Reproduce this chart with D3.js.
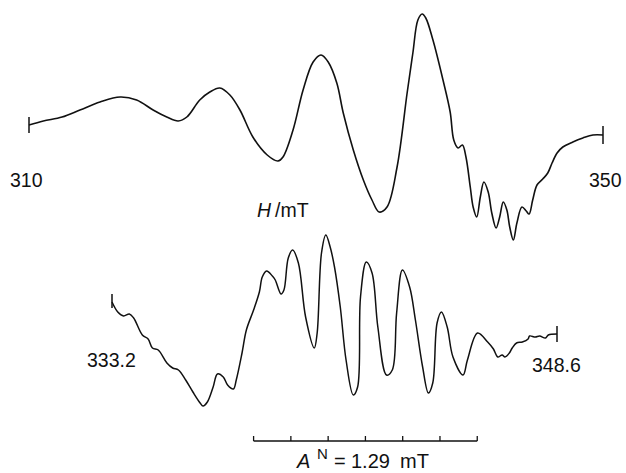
<!DOCTYPE html>
<html>
<head>
<meta charset="utf-8">
<script src="https://cdn.jsdelivr.net/npm/d3@7/dist/d3.min.js"></script>
<style>
  html, body { margin: 0; padding: 0; background: #fff; }
  svg { display: block; }
  text { font-family: "Liberation Sans", Arial, Helvetica, sans-serif; fill: #111; }
</style>
</head>
<body>
<svg id="chart" width="626" height="473"></svg>
<script>
// ---- Data ----
// Upper spectrum: field H (mT) and signal (arbitrary units)
const topField = [310.0,311.0,312.3,313.55,314.95,316.35,317.5,318.65,319.6,320.4,321.0,321.9,322.6,323.3,324.0,324.7,325.6,326.6,327.35,327.7,328.4,329.1,329.8,330.35,330.85,331.45,331.9,332.6,333.3,333.9,334.4,334.95,335.65,336.35,336.75,337.1,337.4,337.65,338.15,338.85,339.35,339.6,339.9,340.2,340.45,340.75,340.95,341.2,341.45,341.7,342.0,342.25,342.55,342.8,343.05,343.3,343.5,343.75,344.0,344.35,344.65,344.85,345.1,345.4,345.8,346.15,346.45,346.8,347.2,347.9,348.6,349.3,350.0];
const topSignal = [0,4,8,15,23,28,25,15,8,4,8,25,33,37,30,15,-12,-30,-36,-32,-5,35,63,70,63,42,12,-25,-55,-75,-87,-82,-42,32,72,105,111,107,85,45,13,-15,-23,-20,-32,-62,-82,-92,-72,-57,-67,-88,-103,-92,-77,-85,-102,-115,-98,-82,-86,-89,-75,-60,-54,-48,-38,-28,-22,-17,-13,-10,-10];

// Lower spectrum (expanded): field H (mT) and signal (arbitrary units)
const botField = [333.2,333.4,333.6,333.8,333.95,334.25,334.45,334.6,334.8,335.1,335.3,335.5,335.75,336.0,336.25,336.35,336.5,336.7,336.85,337.05,337.2,337.4,337.5,337.7,337.85,338.1,338.3,338.4,338.55,338.75,338.85,339.05,339.15,339.3,339.45,339.65,339.9,340.2,340.3,340.45,340.6,340.75,340.9,341.1,341.3,341.55,341.7,341.8,342.0,342.2,342.4,342.7,342.9,343.05,343.25,343.5,343.7,343.95,344.15,344.3,344.45,344.6,344.8,345.0,345.35,345.5,345.85,346.2,346.4,346.55,346.7,346.8,346.95,347.05,347.2,347.4,347.6,347.65,347.85,348.0,348.2,348.3,348.6];
const botSignal = [38,28,24,26,22,5,1,-8,-10,-23,-28,-30,-40,-52,-63,-66,-62,-47,-34,-37,-45,-49,-40,-13,10,30,48,63,69,64,60,46,50,82,90,77,23,-8,7,87,105,93,73,33,-20,-55,-47,43,78,67,13,-35,-30,27,70,53,20,-27,-53,-43,17,28,13,-17,-35,-20,7,-2,-9,-17,-15,-17,-13,-8,-3,-2,1,4,3,4,2,5,6];

// Labels
const topLabels = ["310", "350"];
const botLabels = ["333.2", "348.6"];
const axisLabel = ["H", "/mT"];
// Hyperfine splitting scale bar: A^N = 1.29 mT, 6 intervals
const hfStart = 338.1;
const hfSplitting = 1.29;
const hfCount = 6;
const hfLabel = ["A", "N", "=", "1.29", "mT"];

// ---- Drawing ----
const svg = d3.select("#chart");

const xTop = d3.scaleLinear().domain([310, 350]).range([29, 603]);
const yTop = d3.scaleLinear().domain([-120, 120]).range([245, 5]);
const xBot = d3.scaleLinear().domain([333.2, 348.6]).range([112, 557]);
const yBot = d3.scaleLinear().domain([-120, 120]).range([460, 220]);

const topData = topField.map((f, i) => [f, topSignal[i]]);
const botData = botField.map((f, i) => [f, botSignal[i]]);

const lineTop = d3.line().x(d => xTop(d[0])).y(d => yTop(d[1])).curve(d3.curveCatmullRom.alpha(0.5));
const lineBot = d3.line().x(d => xBot(d[0])).y(d => yBot(d[1])).curve(d3.curveCatmullRom.alpha(0.5));

const stroke = "#111";
svg.append("path").attr("d", lineTop(topData))
  .attr("fill", "none").attr("stroke", stroke).attr("stroke-width", 1.6).attr("stroke-linejoin", "round");
svg.append("path").attr("d", lineBot(botData))
  .attr("fill", "none").attr("stroke", stroke).attr("stroke-width", 1.5).attr("stroke-linejoin", "round");

// end ticks
function endTick(x, y, len) {
  svg.append("line").attr("x1", x).attr("x2", x).attr("y1", y - len).attr("y2", y + len)
    .attr("stroke", stroke).attr("stroke-width", 1.5);
}
endTick(xTop(topData[0][0]), yTop(topData[0][1]), 8);
endTick(xTop(topData[topData.length-1][0]), yTop(topData[topData.length-1][1]), 9);
endTick(xBot(botData[0][0]), yBot(botData[0][1]) - 1, 7);
endTick(xBot(botData[botData.length-1][0]), yBot(botData[botData.length-1][1]), 8);

const fs = 19.5;
svg.append("text").attr("x", 10).attr("y", 187).attr("font-size", fs).text(topLabels[0]);
svg.append("text").attr("x", 589).attr("y", 187).attr("font-size", fs).text(topLabels[1]);
svg.append("text").attr("x", 87).attr("y", 367).attr("font-size", fs).text(botLabels[0]);
svg.append("text").attr("x", 532).attr("y", 372).attr("font-size", fs).text(botLabels[1]);

const hl = svg.append("text").attr("x", 257).attr("y", 217).attr("font-size", fs);
hl.append("tspan").attr("font-style", "italic").text(axisLabel[0]);
hl.append("tspan").attr("dx", 4).text(axisLabel[1]);

// scale bar
const barY = 441;
const tickVals = d3.range(hfCount + 1).map(k => hfStart + k * hfSplitting);
svg.append("line").attr("x1", xBot(tickVals[0])).attr("x2", xBot(tickVals[hfCount]))
  .attr("y1", barY).attr("y2", barY).attr("stroke", stroke).attr("stroke-width", 1.3);
svg.selectAll(".hft").data(tickVals).enter().append("line")
  .attr("x1", d => xBot(d)).attr("x2", d => xBot(d))
  .attr("y1", barY).attr("y2", barY - 5).attr("stroke", stroke).attr("stroke-width", 1.3);

const baseY = 468;
svg.append("text").attr("x", 297).attr("y", baseY).attr("font-size", 20).attr("font-style", "italic").text(hfLabel[0]);
svg.append("text").attr("x", 317).attr("y", baseY - 9).attr("font-size", 15).text(hfLabel[1]);
svg.append("text").attr("x", 334).attr("y", baseY).attr("font-size", 20).text(hfLabel[2]);
svg.append("text").attr("x", 351).attr("y", baseY).attr("font-size", 20).text(hfLabel[3]);
svg.append("text").attr("x", 400).attr("y", baseY).attr("font-size", 20).text(hfLabel[4]);
</script>
</body>
</html>
